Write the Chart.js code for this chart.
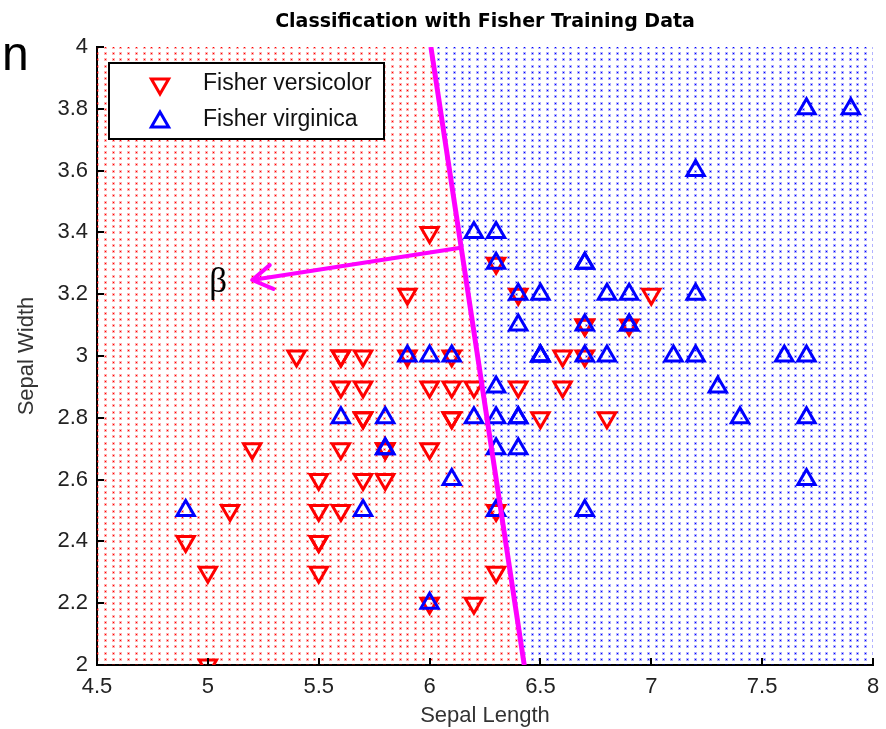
<!DOCTYPE html>
<html>
<head>
<meta charset="utf-8">
<script src="https://cdn.jsdelivr.net/npm/chart.js@4.4.1/dist/chart.umd.min.js"></script>
<style>
  html, body { margin: 0; padding: 0; background: #fff; }
  canvas { display: block; }
</style>
</head>
<body>
<canvas id="fisherChart" width="886" height="729"></canvas>
<script>
// Fisher iris data, sepal length / sepal width
const versicolorLength = [7.0, 6.4, 6.9, 5.5, 6.5, 5.7, 6.3, 4.9, 6.6, 5.2, 5.0, 5.9, 6.0, 6.1, 5.6, 6.7, 5.6, 5.8, 6.2, 5.6, 5.9, 6.1, 6.3, 6.1, 6.4, 6.6, 6.8, 6.7, 6.0, 5.7, 5.5, 5.5, 5.8, 6.0, 5.4, 6.0, 6.7, 6.3, 5.6, 5.5, 5.5, 6.1, 5.8, 5.0, 5.6, 5.7, 5.7, 6.2, 5.1, 5.7];
const versicolorWidth = [3.2, 3.2, 3.1, 2.3, 2.8, 2.8, 3.3, 2.4, 2.9, 2.7, 2.0, 3.0, 2.2, 2.9, 2.9, 3.1, 3.0, 2.7, 2.2, 2.5, 3.2, 2.8, 2.5, 2.8, 2.9, 3.0, 2.8, 3.0, 2.9, 2.6, 2.4, 2.4, 2.7, 2.7, 3.0, 3.4, 3.1, 2.3, 3.0, 2.5, 2.6, 3.0, 2.6, 2.3, 2.7, 3.0, 2.9, 2.9, 2.5, 2.8];
const virginicaLength = [6.3, 5.8, 7.1, 6.3, 6.5, 7.6, 4.9, 7.3, 6.7, 7.2, 6.5, 6.4, 6.8, 5.7, 5.8, 6.4, 6.5, 7.7, 7.7, 6.0, 6.9, 5.6, 7.7, 6.3, 6.7, 7.2, 6.2, 6.1, 6.4, 7.2, 7.4, 7.9, 6.4, 6.3, 6.1, 7.7, 6.3, 6.4, 6.0, 6.9, 6.7, 6.9, 5.8, 6.8, 6.7, 6.7, 6.3, 6.5, 6.2, 5.9];
const virginicaWidth = [3.3, 2.7, 3.0, 2.9, 3.0, 3.0, 2.5, 2.9, 2.5, 3.6, 3.2, 2.7, 3.0, 2.5, 2.8, 3.2, 3.0, 3.8, 2.6, 2.2, 3.2, 2.8, 2.8, 2.7, 3.3, 3.2, 2.8, 3.0, 2.8, 3.0, 2.8, 3.8, 2.8, 2.8, 2.6, 3.0, 3.4, 3.1, 3.0, 3.1, 3.1, 3.1, 2.7, 3.2, 3.3, 3.0, 2.5, 3.0, 3.4, 3.0];

// linear boundary and the beta arrow, in data units
const boundaryLength = [6.006, 6.427];
const boundaryWidth = [4.0, 2.0];
const arrowLength = [6.14, 5.2];
const arrowWidth = [3.35, 3.246];
const betaPoint = [5.047, 3.236];

const xTicks = [4.5, 5, 5.5, 6, 6.5, 7, 7.5, 8];
const yTicks = [2, 2.2, 2.4, 2.6, 2.8, 3, 3.2, 3.4, 3.6, 3.8, 4];
const legendLabels = ['Fisher versicolor', 'Fisher virginica'];

// classification mesh spacing
const meshStepX = 0.035;
const meshStepY = 0.02;

const FONT = 'Liberation Sans';

const pts = (xs, ys) => xs.map((v, i) => ({x: v, y: ys[i]}));

// dotted red / blue decision regions behind everything
const regionPlugin = {
  id: 'regions',
  beforeDatasetsDraw(chart) {
    const {ctx, chartArea: a, scales: {x, y}} = chart;
    const slope = (boundaryLength[1] - boundaryLength[0]) / (boundaryWidth[1] - boundaryWidth[0]);
    ctx.save();
    ctx.beginPath();
    ctx.rect(a.left, a.top, a.right - a.left, a.bottom - a.top);
    ctx.clip();
    const nx = Math.round((x.max - x.min) / meshStepX);
    const ny = Math.round((y.max - y.min) / meshStepY);
    for (let i = 0; i <= nx; i++) {
      const xv = x.min + i * meshStepX;
      const px = Math.round(x.getPixelForValue(xv));
      for (let j = 0; j <= ny; j++) {
        const yv = y.min + j * meshStepY;
        const py = Math.round(y.getPixelForValue(yv));
        const bx = boundaryLength[0] + (yv - boundaryWidth[0]) * slope;
        const red = xv < bx;
        ctx.fillStyle = red ? 'rgba(255,0,0,0.3)' : 'rgba(0,0,255,0.3)';
        ctx.fillRect(px - 1, py - 1, 3, 3);
        ctx.fillStyle = red ? '#ff0000' : '#0000ff';
        ctx.fillRect(px, py, 1, 1);
      }
    }
    ctx.restore();
  }
};

function triangle(ctx, cx, cy, r, down) {
  const s = down ? -1 : 1;
  ctx.beginPath();
  ctx.moveTo(cx, cy - s * r);
  ctx.lineTo(cx + r * 0.866, cy + s * r * 0.5);
  ctx.lineTo(cx - r * 0.866, cy + s * r * 0.5);
  ctx.closePath();
  ctx.stroke();
}

const decorPlugin = {
  id: 'decor',
  afterDatasetsDraw(chart) {
    const {ctx, scales: {x, y}} = chart;
    // arrow head on the beta vector
    const sx = x.getPixelForValue(arrowLength[0]), sy = y.getPixelForValue(arrowWidth[0]);
    const tx = x.getPixelForValue(arrowLength[1]), ty = y.getPixelForValue(arrowWidth[1]);
    const ang = Math.atan2(ty - sy, tx - sx);
    ctx.save();
    ctx.strokeStyle = '#ff00ff';
    ctx.lineWidth = 4;
    ctx.lineCap = 'round';
    ctx.beginPath();
    [0.55, -0.55].forEach(d => {
      ctx.moveTo(tx, ty);
      ctx.lineTo(tx - 23 * Math.cos(ang + d), ty - 23 * Math.sin(ang + d));
    });
    ctx.stroke();
    ctx.restore();
  },
  afterDraw(chart) {
    const {ctx, chartArea: a, scales: {x, y}} = chart;
    ctx.save();
    // inward tick marks
    ctx.strokeStyle = '#000';
    ctx.lineWidth = 2;
    ctx.beginPath();
    xTicks.forEach(v => {
      const px = Math.round(x.getPixelForValue(v));
      ctx.moveTo(px, a.bottom);
      ctx.lineTo(px, a.bottom - 7);
    });
    yTicks.forEach(v => {
      const py = Math.round(y.getPixelForValue(v));
      ctx.moveTo(a.left, py);
      ctx.lineTo(a.left + 7, py);
    });
    ctx.stroke();

    // legend box
    const lx = 109, ly = 63, lw = 275, lh = 76;
    ctx.fillStyle = '#fff';
    ctx.fillRect(lx, ly, lw, lh);
    ctx.lineWidth = 2;
    ctx.strokeRect(lx, ly, lw, lh);
    ctx.lineWidth = 3;
    ctx.strokeStyle = '#ff0000';
    triangle(ctx, 160, 84, 10, true);
    ctx.strokeStyle = '#0000ff';
    triangle(ctx, 160, 122, 10, false);
    ctx.fillStyle = '#111';
    ctx.font = '23px "' + FONT + '"';
    ctx.textBaseline = 'middle';
    ctx.textAlign = 'left';
    ctx.fillText(legendLabels[0], 203, 84);
    ctx.fillText(legendLabels[1], 203, 120);

    // title
    ctx.fillStyle = '#000';
    ctx.font = 'bold 19px "DejaVu Sans"';
    ctx.textAlign = 'center';
    ctx.fillText('Classification with Fisher Training Data', (a.left + a.right) / 2, 22);

    // beta label
    ctx.font = '35px "Liberation Serif"';
    ctx.fillText('\u03b2', x.getPixelForValue(betaPoint[0]), y.getPixelForValue(betaPoint[1]));

    // stray slide letter in the corner
    ctx.font = '48px "Liberation Sans"';
    ctx.textAlign = 'left';
    ctx.textBaseline = 'alphabetic';
    ctx.fillText('n', 2, 70);
    ctx.restore();
  }
};

new Chart(document.getElementById('fisherChart'), {
  type: 'scatter',
  data: {
    datasets: [
      {
        label: 'boundary',
        type: 'line',
        data: pts(boundaryLength, boundaryWidth),
        borderColor: '#ff00ff',
        borderWidth: 5,
        pointRadius: 0,
        fill: false,
        order: 0
      },
      {
        label: 'beta',
        type: 'line',
        data: pts(arrowLength, arrowWidth),
        borderColor: '#ff00ff',
        borderWidth: 4,
        pointRadius: 0,
        fill: false,
        order: 0
      },
      {
        label: legendLabels[1],
        data: pts(virginicaLength, virginicaWidth),
        pointStyle: 'triangle',
        pointRadius: 10,
        pointBorderWidth: 3,
        pointBorderColor: '#0000ff',
        pointBackgroundColor: 'rgba(0,0,0,0)',
        order: 1
      },
      {
        label: legendLabels[0],
        data: pts(versicolorLength, versicolorWidth),
        pointStyle: 'triangle',
        pointRotation: 180,
        pointRadius: 10,
        pointBorderWidth: 3,
        pointBorderColor: '#ff0000',
        pointBackgroundColor: 'rgba(0,0,0,0)',
        order: 2
      }
    ]
  },
  options: {
    responsive: false,
    animation: false,
    layout: { padding: { top: 47, right: 2, left: 0, bottom: 0 } },
    plugins: {
      legend: { display: false },
      tooltip: { enabled: false },
      title: { display: false }
    },
    scales: {
      x: {
        type: 'linear',
        min: 4.5,
        max: 8,
        afterBuildTicks: s => { s.ticks = xTicks.map(v => ({value: v})); },
        afterFit: s => { s.height = 64; s.paddingRight = 8; },
        grid: { display: false, drawTicks: false },
        border: { display: true, color: '#000', width: 2 },
        ticks: {
          color: '#222',
          font: { family: FONT, size: 22 },
          padding: 9,
          maxRotation: 0,
          callback: v => String(v)
        },
        title: {
          display: true,
          text: 'Sepal Length',
          color: '#333',
          font: { family: FONT, size: 22 },
          padding: { top: 0, bottom: 0 }
        }
      },
      y: {
        type: 'linear',
        min: 2,
        max: 4,
        afterBuildTicks: s => { s.ticks = yTicks.map(v => ({value: v})); },
        afterFit: s => { s.width = 97; },
        grid: { display: false, drawTicks: false },
        border: { display: true, color: '#000', width: 2 },
        ticks: {
          color: '#222',
          font: { family: FONT, size: 22 },
          padding: 9,
          callback: v => String(v)
        },
        title: {
          display: true,
          text: 'Sepal Width',
          color: '#333',
          font: { family: FONT, size: 22 },
          padding: { top: 14, bottom: 0 }
        }
      }
    }
  },
  plugins: [regionPlugin, decorPlugin]
});
</script>
</body>
</html>
